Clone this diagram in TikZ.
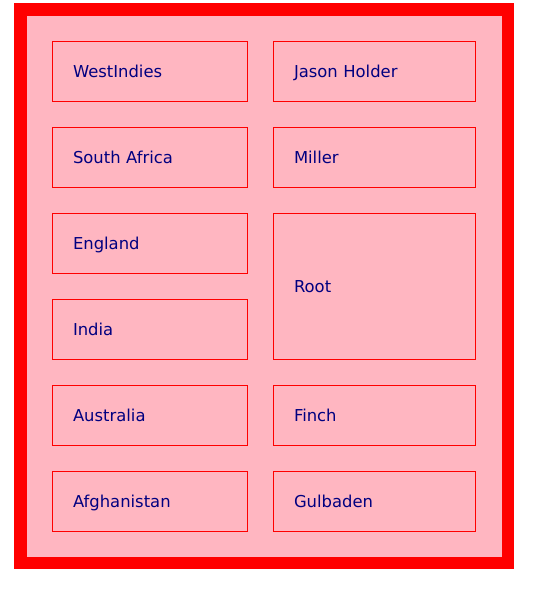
\documentclass[tikz,border=0pt]{standalone}
\usepackage{fontspec}
\setmainfont{DejaVu Sans}
\usetikzlibrary{positioning}
\definecolor{framepink}{RGB}{255,182,193}
\definecolor{textnavy}{RGB}{0,0,128}
\tikzset{
  team/.style={draw=red, line width=0.75pt, fill=framepink, text=textnavy,
    font=\fontsize{12.3pt}{14pt}\selectfont, align=left,
    minimum height=45pt, inner xsep=15.75pt, inner ysep=0pt,
    text height=10pt, text depth=0.2pt, text width=114.75pt},
  player/.style={team, text width=120pt}
}
\begin{document}
\begin{tikzpicture}[x=0.75pt, y=-0.75pt, node distance=18.75pt]
        % Page size
        \useasboundingbox (0,0) rectangle (538,590);

        % Red frame and pink panel
        \fill[red] (14,3) rectangle (514,569);
        \fill[framepink] (26.5,15.5) rectangle (501.5,557);

        % Countries
        \node[team] (westindies) at (149.5,71) {WestIndies};
        \node[team, below=of westindies] (southafrica) {South Africa};
        \node[team, below=of southafrica] (england) {England};
        \node[team, below=of england] (india) {India};
        \node[team, below=of india] (australia) {Australia};
        \node[team, below=of australia] (afghanistan) {Afghanistan};

        % Players
        \node[player, right=of westindies] (holder) {Jason Holder};
        \node[player, right=of southafrica] (miller) {Miller};
        \node[player, minimum height=109.5pt] (root) at (374,286) {Root};
        \node[player, right=of australia] (finch) {Finch};
        \node[player, right=of afghanistan] (gulbaden) {Gulbaden};
\end{tikzpicture}
\end{document}
